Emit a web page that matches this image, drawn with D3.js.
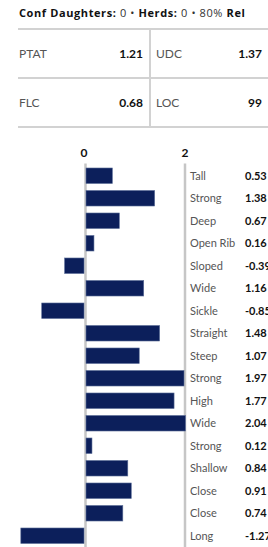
<!DOCTYPE html>
<html>
<head>
<meta charset="utf-8">
<script src="https://cdn.jsdelivr.net/npm/d3@7"></script>
<style>
  body { margin: 0; background: #fff; }
  svg { display: block; font-family: Lato, "Open Sans", sans-serif; }
</style>
</head>
<body>
<div id="chart"></div>
<script>
var summaryParts = [["Conf Daughters:", true], [" 0 • ", false], ["Herds:", true], [" 0 • 80% ", false], ["Rel", true]];
var indexLabels = ["PTAT", "UDC", "FLC", "LOC"];
var indexValues = ["1.21", "1.37", "0.68", "99"];

var traitLabels = ["Tall", "Strong", "Deep", "Open Rib", "Sloped", "Wide", "Sickle", "Straight",
	"Steep", "Strong", "High", "Wide", "Strong", "Shallow", "Close", "Close", "Long"];
var traitValues = [0.53, 1.38, 0.67, 0.16, -0.39, 1.16, -0.85, 1.48,
	1.07, 1.97, 1.77, 2.04, 0.12, 0.84, 0.91, 0.74, -1.27];
var tickValues = [0, 2];

var width = 268, height = 547;
var gridColor = "#d2d2d2";

var svg = d3.select("#chart")
	.append("svg")
		.attr("width", width)
		.attr("height", height);

// header line
var head = svg.append("text")
	.attr("x", 19)
	.attr("y", 17)
	.attr("font-size", 11)
	.attr("font-family", "'Open Sans', sans-serif")
	.attr("letter-spacing", 0.6)
	.attr("fill", "#111");
head.selectAll("tspan")
	.data(summaryParts)
	.enter()
		.append("tspan")
		.attr("font-weight", d => d[1] ? 700 : 400)
		.attr("fill", d => d[1] ? "#111" : "#333")
		.style("white-space", "pre")
		.text(d => d[0]);

// index table
var rowY = d3.scaleBand().domain([0, 1]).range([29, 127]);

[29, 78, 127].forEach(y => {
	svg.append("line")
		.attr("x1", 18).attr("x2", width)
		.attr("y1", y).attr("y2", y)
		.attr("stroke", gridColor).attr("stroke-width", 2);
});
svg.append("line")
	.attr("x1", 150).attr("x2", 150)
	.attr("y1", 29).attr("y2", 127)
	.attr("stroke", gridColor).attr("stroke-width", 2);

var cells = svg.append("g")
	.selectAll("g")
	.data(indexLabels.map((l, i) => ({label: l, value: indexValues[i], row: Math.floor(i / 2), col: i % 2})))
	.enter()
		.append("g")
		.attr("transform", d => "translate(" + (d.col == 0 ? 19 : 156) + "," + (rowY(d.row) + rowY.bandwidth() / 2 + 4.5) + ")");

cells.append("text")
	.attr("font-size", 12)
	.attr("fill", "#555")
	.text(d => d.label);
cells.append("text")
	.attr("x", d => d.col == 0 ? 124 : 106)
	.attr("text-anchor", "end")
	.attr("font-size", 12)
	.attr("font-weight", 700)
	.attr("fill", "#111")
	.text(d => d.value);

// trait bars
var x = d3.scaleLinear()
	.domain([-2, 2])
	.range([-14, 185])
	.clamp(true);

var y = d3.scaleBand()
	.domain(d3.range(traitLabels.length))
	.range([164.5, 547])
	.paddingInner(0.31)
	.paddingOuter(0.155);

svg.append("g")
	.attr("transform", "translate(0,157)")
	.call(d3.axisTop(x).tickValues(tickValues).tickSize(0).tickPadding(0).tickFormat(d3.format("d")))
	.call(g => g.select(".domain").remove())
	.call(g => g.selectAll(".tick").attr("transform", d => "translate(" + (d == 0 ? x(d) - 1.5 : x(d)) + ",0)"))
	.call(g => g.selectAll("text")
		.attr("font-size", 12)
		.attr("font-weight", 700)
		.attr("font-family", "Lato, sans-serif")
		.attr("fill", "#111"));

tickValues.forEach(v => {
	svg.append("line")
		.attr("x1", x(v)).attr("x2", x(v))
		.attr("y1", 163.5).attr("y2", height)
		.attr("stroke", "#c6c6c6")
		.attr("stroke-width", 2.5);
});

svg.append("g")
	.selectAll("rect")
	.data(traitValues)
	.enter()
		.append("rect")
		.attr("x", d => d >= 0 ? x(0) + 0.5 : x(d) - 1.5)
		.attr("y", (d, i) => y(i))
		.attr("width", d => Math.abs(x(d) - x(0)))
		.attr("height", y.bandwidth())
		.attr("fill", "#0c1f5b")
		.attr("stroke", "#5d6f99")
		.attr("stroke-width", 0.6);

var rows = svg.append("g")
	.selectAll("g")
	.data(traitLabels)
	.enter()
		.append("g")
		.attr("transform", (d, i) => "translate(0," + (y(i) + y.bandwidth() / 2 + 4) + ")");

rows.append("text")
	.attr("x", 190)
	.attr("font-size", 11)
	.attr("fill", "#555")
	.text(d => d);
rows.append("text")
	.attr("x", 245)
	.attr("font-size", 11)
	.attr("font-weight", 700)
	.attr("fill", "#111")
	.text((d, i) => traitValues[i].toFixed(2));
</script>
</body>
</html>
